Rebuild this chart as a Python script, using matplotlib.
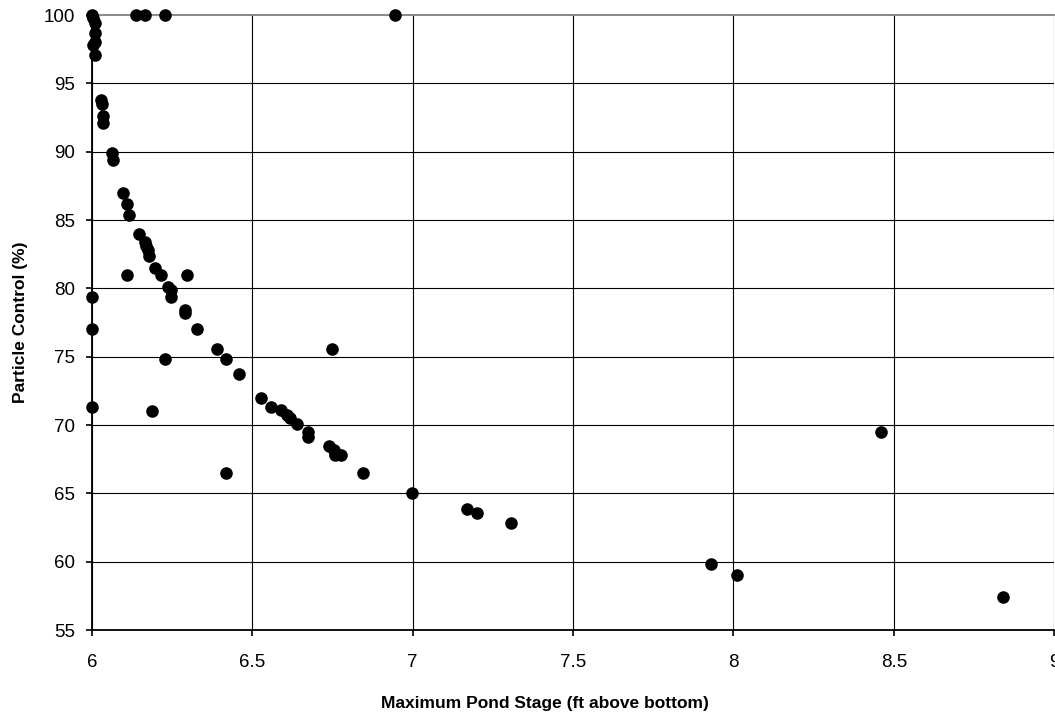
import matplotlib.pyplot as plt

# Values
pond_stage = [
    6.000, 6.003, 6.010, 6.010, 6.010, 6.003, 6.010,
    6.137, 6.165, 6.228, 6.945,
    6.027, 6.030, 6.034, 6.034, 6.062, 6.067,
    6.097, 6.109, 6.115, 6.147, 6.165, 6.168, 6.175, 6.178,
    6.197, 6.215, 6.109, 6.296, 6.237, 6.246, 6.246, 6.000,
    6.290, 6.290, 6.327, 6.000, 6.390, 6.418, 6.228, 6.459,
    6.000, 6.187, 6.527, 6.558, 6.590, 6.608, 6.617, 6.639,
    6.674, 6.674, 6.739, 6.755, 6.758, 6.777, 6.418, 6.845,
    6.998, 6.749, 7.170, 7.200, 7.307, 7.930, 8.010, 8.460, 8.840,
]
particle_control = [
    100.0, 99.8, 99.4, 98.7, 98.0, 97.8, 97.1,
    100.0, 100.0, 100.0, 100.0,
    93.8, 93.5, 92.6, 92.1, 89.9, 89.4,
    87.0, 86.2, 85.4, 84.0, 83.4, 83.1, 82.8, 82.4,
    81.5, 81.0, 81.0, 81.0, 80.1, 79.9, 79.4, 79.4,
    78.4, 78.2, 77.0, 77.0, 75.6, 74.8, 74.8, 73.7,
    71.3, 71.0, 72.0, 71.3, 71.1, 70.7, 70.5, 70.1,
    69.5, 69.1, 68.5, 68.2, 67.8, 67.8, 66.5, 66.5,
    65.0, 75.6, 63.85, 63.6, 62.8, 59.8, 59.05, 69.5, 57.4,
]
x_ticks = [6, 6.5, 7, 7.5, 8, 8.5, 9]
x_tick_labels = ["6", "6.5", "7", "7.5", "8", "8.5", "9"]
y_ticks = [55, 60, 65, 70, 75, 80, 85, 90, 95, 100]

plt.rcParams["font.family"] = ["Liberation Sans", "DejaVu Sans"]


def plot_scatter(filename):
    fig = plt.figure(figsize=(10.55, 7.17), dpi=100)
    ax = fig.add_axes([0.0872, 0.1213, 0.912, 0.8577])

    ax.scatter(pond_stage, particle_control, s=82, color="black",
               zorder=3, clip_on=False, linewidths=0)

    ax.set_xlim(6, 9)
    ax.set_ylim(55, 100)
    ax.set_xticks(x_ticks)
    ax.set_xticklabels(x_tick_labels)
    ax.set_yticks(y_ticks)

    ax.grid(True, color="black", linewidth=0.8)
    ax.set_axisbelow(True)
    ax.yaxis.get_gridlines()[-1].set_visible(False)

    for side in ["left", "bottom"]:
        ax.spines[side].set_color("black")
        ax.spines[side].set_linewidth(1.3)
    ax.spines["top"].set_color("#808080")
    ax.spines["top"].set_linewidth(1.3)
    ax.spines["right"].set_visible(False)

    ax.tick_params(axis="both", labelsize=13.5, length=4, width=1.2,
                   direction="out", color="black")
    ax.tick_params(axis="x", pad=13)
    ax.tick_params(axis="y", pad=8)

    ax.set_xlabel("Maximum Pond Stage (ft above bottom)", fontsize=12.5,
                  fontweight="bold", va="center")
    ax.xaxis.set_label_coords(0.471, -0.120)
    ax.set_ylabel("Particle Control (%)", fontsize=12.5,
                  fontweight="bold", va="center")
    ax.yaxis.set_label_coords(-0.074, 0.5)

    fig.savefig(filename, dpi=100)


def main():
    plot_scatter("out.png")


if __name__ == "__main__":
    main()
